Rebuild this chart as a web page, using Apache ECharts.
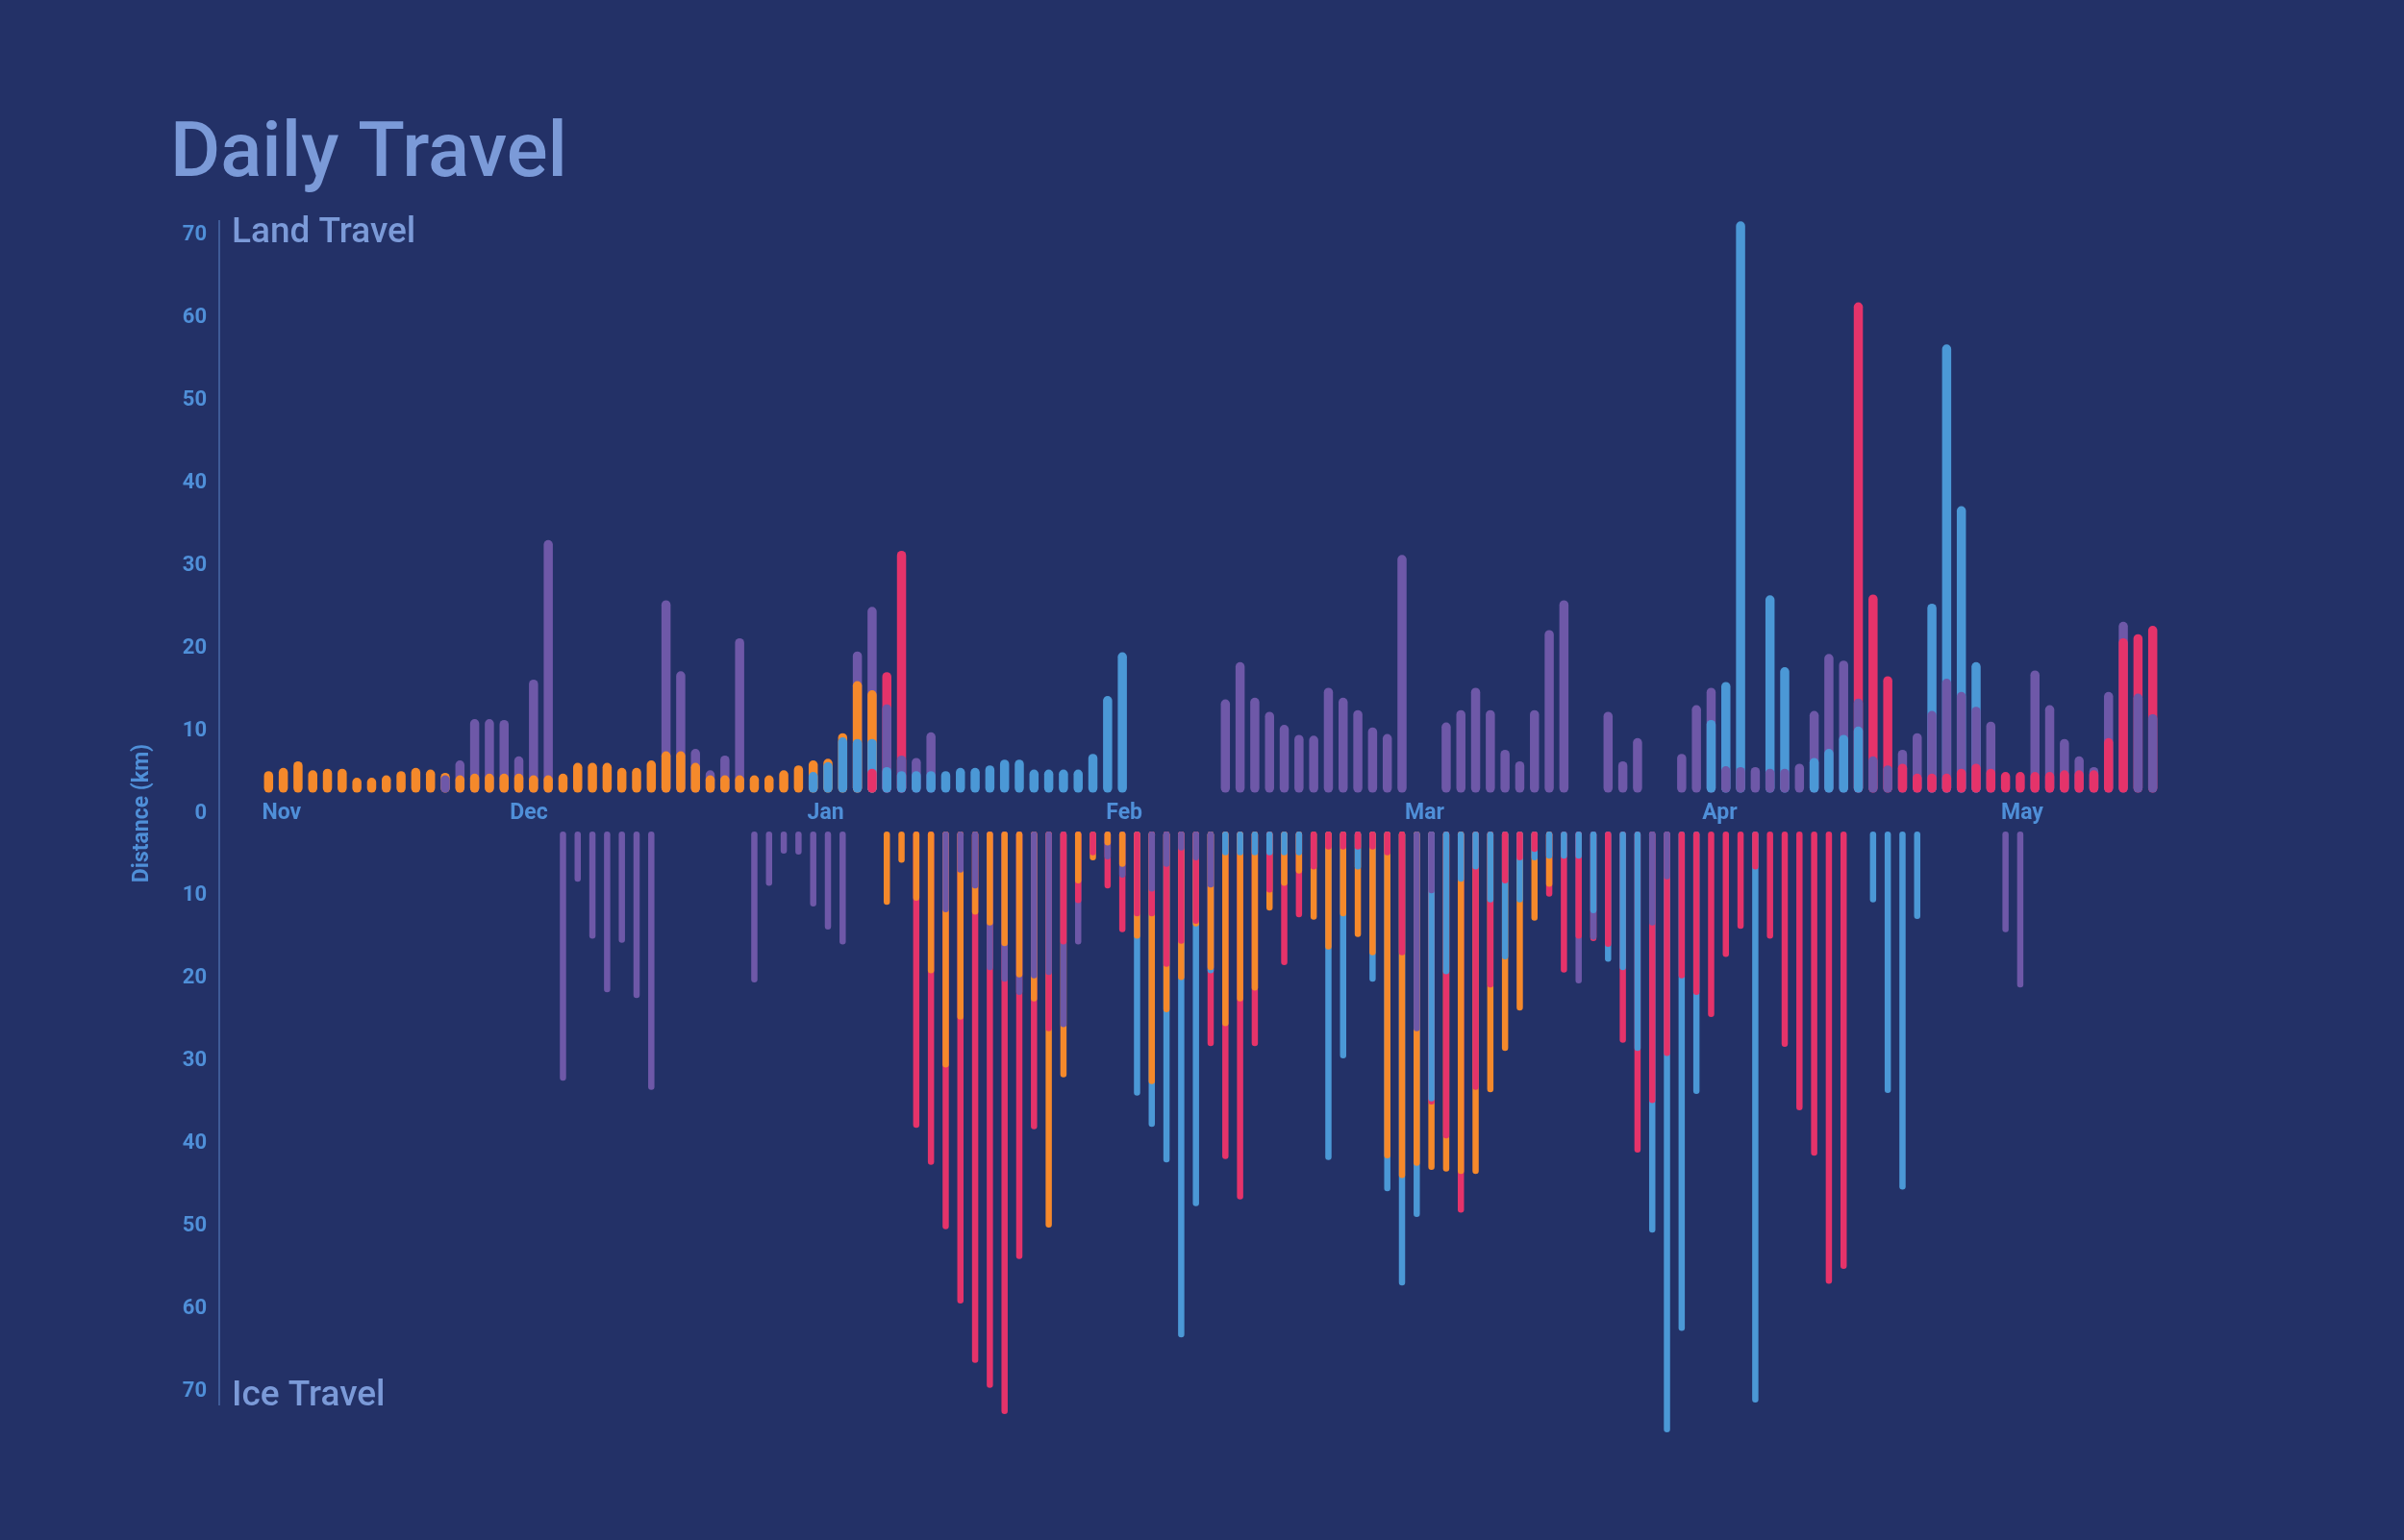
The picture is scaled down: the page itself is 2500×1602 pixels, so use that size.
<!DOCTYPE html>
<html><head><meta charset="utf-8">
<script src="https://cdn.jsdelivr.net/npm/echarts@6/dist/echarts.min.js"></script>
<style>html,body{margin:0;padding:0;background:#233167;}#c{width:2500px;height:1602px;}</style>
</head><body><div id="c"></div>
<script>
// Month labels and their positions on the slot axis
const monthNames = ['Nov','Dec','Jan','Feb','Mar','Apr','May'];
const monthSlots = [-0.45, 16.4, 36.6, 56.9, 77.2, 97.4, 117.7];
const yTicks = [-70,-60,-50,-40,-30,-20,-10,0,10,20,30,40,50,60,70];

// Land travel, slot 0..128: legs from the baseline, "<colour><cumulative km>"
const landLegs = [
'o5.1','o5.5','o6.3','o5.2','o5.4','o5.4','o4.3','o4.3','o4.6','o5.1',
'o5.5','o5.3','p4.6 o4.9','o4.6 p6.4','o4.8 p11.4','o4.8 p11.4','o4.8 p11.3','o4.8 p6.9','o4.6 p16.2','o4.6 p33.1',
'o4.8','o6.1','o6.1','o6.1','o5.5','o5.5','o6.4','o7.5 p25.8','o7.5 p17.2','o6.1 p7.8',
'o4.6 p5.2','o4.6 p7.0','o4.6 p21.2','o4.6','o4.6','o5.2','o5.8','b5.0 o6.4','b6.2 o6.6','b9.2 o9.7',
'b9.0 o16.0 p19.6','r5.4 b9.0 o14.9 p25.0','b5.6 p13.2 r17.1','b5.1 p7.0 r31.8','b5.1 p6.7','b5.1 p9.8','b5.1','b5.5','b5.5','b5.8',
'b6.5','b6.5','b5.3','b5.3','b5.3','b5.3','b7.2','b14.2','b19.5','',
'','','','','','p13.8','p18.3','p14.0','p12.3','p10.7',
'p9.5','p9.4','p15.2','p14.0','p12.5','p10.4','p9.6','p31.3','','',
'p11.0','p12.5','p15.2','p12.5','p7.7','p6.3','p12.5','p22.2','p25.8','',
'','p12.3','p6.3','p9.1','','','p7.2','p13.1','b11.3 p15.2','p5.7 b15.9',
'p5.6 b71.7','p5.6','p5.4 b26.4','p5.4 b17.7','p6.0','b6.7 p12.4','b7.8 p19.3','b9.5 p18.5','b10.5 p13.9 r61.9','p6.9 r26.5',
'p5.8 r16.6','r6.0 p7.7','r4.8 p9.7','r4.8 p12.4 b25.4','r4.8 p16.3 b56.8','r5.4 p14.7 b37.2','r6.0 p12.9 b18.3','r5.4 p11.1','r5.0','r5.0',
'r5.0 p17.3','r5.0 p13.1','r5.2 p9.0','r5.2 p6.9','r5.2 p5.6','r9.1 p14.7','r21.2 p23.2','p14.5 r21.7','p12.0 r22.7'
];

// Ice travel, starting at slot 20
const iceStart = 20;
const iceLegs = [
'p32.4','p8.3','p15.2','p21.7','p15.7','p22.4','p33.5','','','',
'','','','p20.5','p8.8','p4.9','p5.0','p11.3','p14.1','p15.9',
'','','o11.1','o6.0','o10.6 r38.1','o19.4 r42.6','p12.0 o30.8 r50.4','p7.2 o25.0 r59.4','p9.1 o12.3 r66.6','o13.6 p19.0 r69.6',
'o16.1 p20.4 r72.8','o19.9 p22.0 r54.0','p20.0 o22.8 r38.3','p19.6 r26.4 o50.2','r15.9 p25.9 o32.0','o8.5 r10.9 p15.9','r5.1 o5.7','o3.9 p5.6 r9.1','o6.5 p7.8 r14.4','r12.5 o15.2 b34.2',
'p9.5 r12.5 o32.8 b38.0','p6.5 r18.6 o24.1 b42.3','p4.5 r15.8 o20.2 b63.5','p5.7 r13.4 o13.7 b47.6','p9.0 o19.0 b19.4 r28.2','b5.1 o25.8 r41.9','b5.1 o22.8 r46.8','b5.1 o21.5 r28.2','b5.1 r9.6 o11.8','b5.1 o8.8 r18.4',
'b5.1 o7.3 r12.6','r6.8 o12.9','r4.4 o16.5 b42.0','r4.4 o12.5 b29.7','r4.4 b6.8 o15.0','r4.4 o17.2 b20.4','r5.1 o41.8 b45.8','r17.2 o44.2 b57.2','p26.4 o42.7 b48.9','p9.7 b34.9 r35.3 o43.2',
'b19.5 r39.4 o43.4','b8.3 o43.7 r48.4','b6.8 r33.5 o43.7','b10.8 r21.1 o33.8','r8.5 b17.7 o28.8','r5.7 b10.8 o23.9','r4.7 b5.7 o13.0','b5.5 o8.9 r10.1','b5.5 r19.3','b5.5 r15.2 p20.6',
'b12.1 p15.3 r15.5','r16.2 b18.0','b19.0 r27.8','b28.8 r41.1','p13.6 r35.1 b50.8','p8.0 r29.4 b75.0','r20.0 b62.7','r22.0 b34.0','r24.7','r17.4',
'r14.0','r6.8 b71.4','r15.2','r28.3','r36.0','r41.5','r57.0','r55.2','','b10.8',
'b33.9','b45.6','b12.8','','','','','','p14.4','p21.1'
];

const COLORS = {o:'#f5892b', b:'#4b98d6', r:'#e5336a', p:'#6e58a8'};
const KEYS = ['o','b','r','p'];
const LAND_BASE = 2.5, ICE_BASE = 2.2;

function build(legs, start, sign, base){
  const out = [];
  legs.forEach((s, i) => {
    if (!s) return;
    const segs = s.split(' ').map(t => [KEYS.indexOf(t[0]), parseFloat(t.slice(1))]);
    for (let k = segs.length - 1; k >= 0; k--) {
      out.push([start + i, sign * segs[k][1], segs[k][0], sign * base]);
    }
  });
  return out;
}
const landData = build(landLegs, 0, 1, LAND_BASE);
const iceData = build(iceLegs, iceStart, -1, ICE_BASE);

function capsule(width){
  return function(params, api){
    const x = api.value(0), end = api.value(1), ci = api.value(2), b = api.value(3);
    const p1 = api.coord([x, b]), p2 = api.coord([x, end]);
    const h = Math.abs(p2[1] - p1[1]);
    return {type:'rect', shape:{x:p1[0]-width/2, y:Math.min(p1[1],p2[1]), width:width, height:h, r:width/2},
      style:{fill:COLORS[KEYS[ci]]}};
  };
}

const chart = echarts.init(document.getElementById('c'), null, {renderer:'canvas'});
const titleColor = '#7b9ad8', tickColor = '#4f8fd8';
chart.setOption({
  backgroundColor:'#233167',
  animation:false,
  title:{text:'Daily Travel', left:172, top:118, textStyle:{color:titleColor, fontSize:80, fontWeight:500, fontFamily:'Roboto'}},
  grid:{left:264, right:246, top:202, bottom:112},
  xAxis:{type:'value', min:-1, max:129, position:'bottom', offset:-644,
    axisLine:{show:false, onZero:false}, axisTick:{show:false}, splitLine:{show:false},
    axisLabel:{customValues:monthSlots, margin:0, align:'left', verticalAlign:'middle',
      color:tickColor, fontSize:23, fontWeight:'bold', fontFamily:'Roboto',
      formatter:function(v){ let bi=0; monthSlots.forEach((m,i)=>{ if(Math.abs(m-v)<Math.abs(monthSlots[bi]-v)) bi=i; }); return monthNames[bi]; }}
  },
  yAxis:{type:'value', min:-75, max:75,
    name:'Distance (km)', nameLocation:'middle', nameRotate:90, nameGap:104,
    nameTextStyle:{color:tickColor, fontSize:23, fontWeight:'bold', fontFamily:'Roboto'},
    axisLine:{show:false}, axisTick:{show:false}, splitLine:{show:false},
    axisLabel:{customValues:yTicks, margin:49, color:tickColor, fontSize:22, fontWeight:'bold', fontFamily:'Roboto',
      formatter:v=>String(Math.abs(v))}
  },
  graphic:[
    {type:'line', shape:{x1:228, y1:229, x2:228, y2:1462}, style:{stroke:'#4a6aa8', lineWidth:1.5}},
    {type:'text', left:241, top:224, style:{text:'Land Travel', fill:titleColor, font:'500 37px Roboto'}},
    {type:'text', left:241, top:1434, style:{text:'Ice Travel', fill:titleColor, font:'500 37px Roboto'}}
  ],
  series:[
    {type:'custom', renderItem:capsule(9.5), data:landData, encode:{x:0, y:1}, clip:false},
    {type:'custom', renderItem:capsule(6.5), data:iceData, encode:{x:0, y:1}, clip:false}
  ]
});
</script></body></html>
